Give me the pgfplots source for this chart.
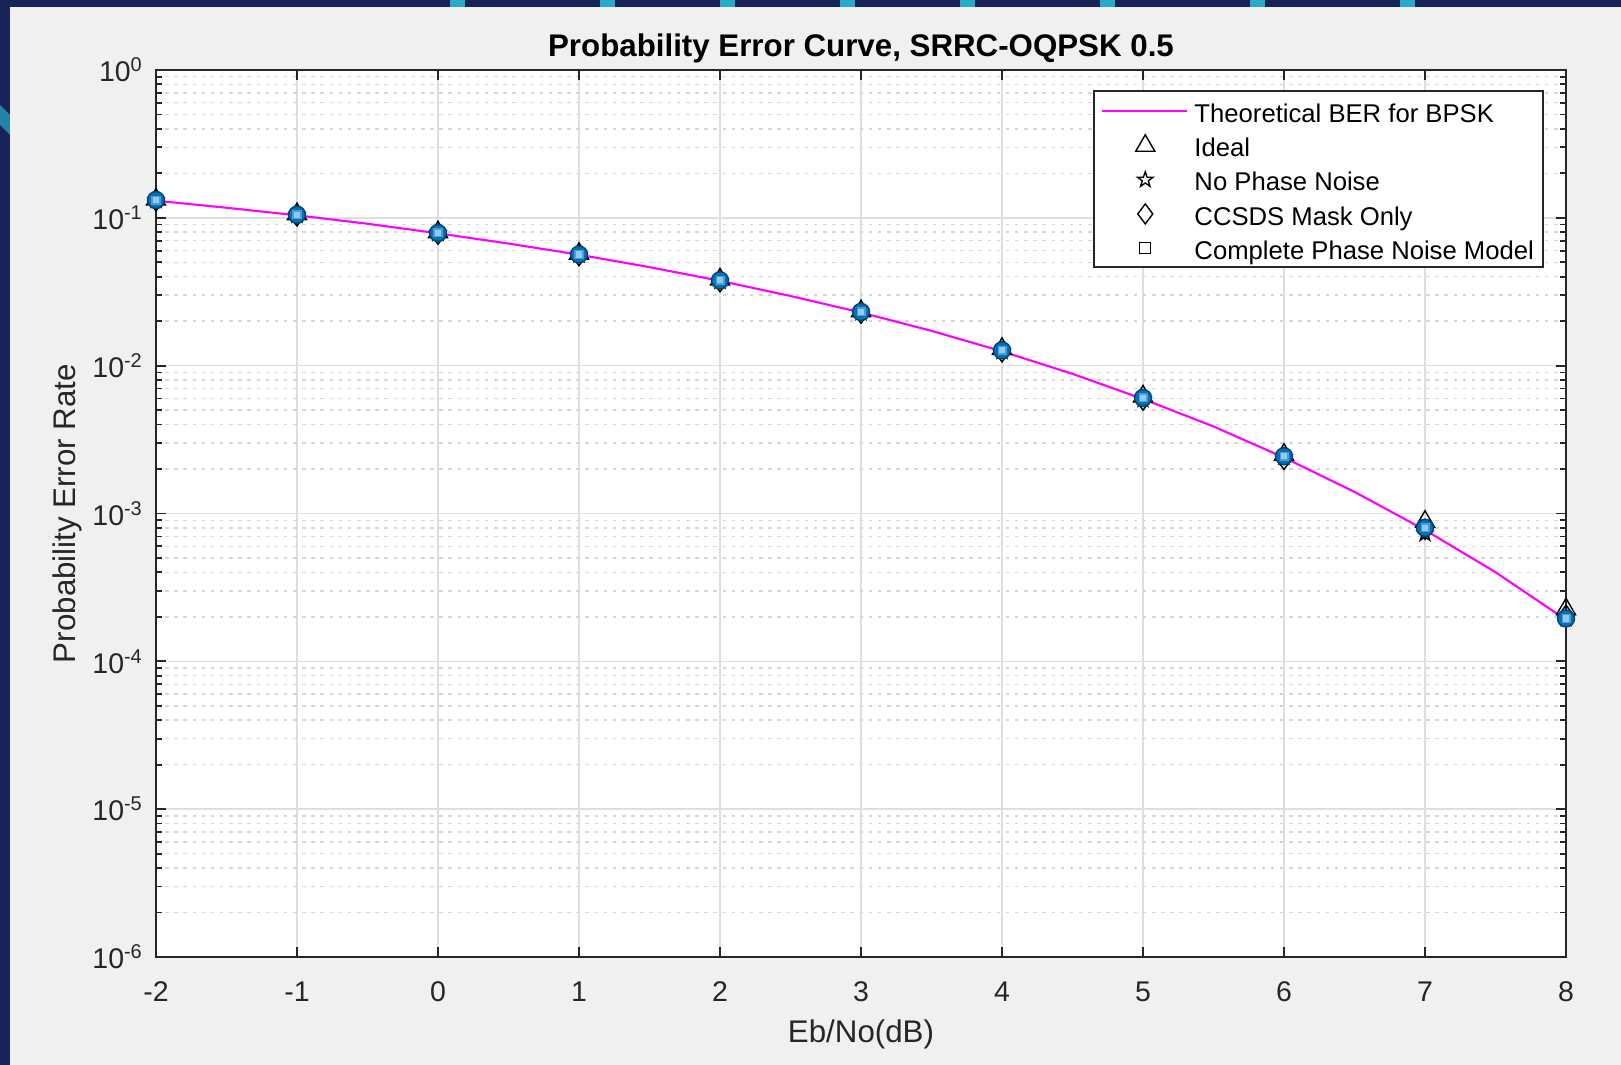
\documentclass[border=0pt]{standalone}
\usepackage{fontspec}
\setmainfont{Liberation Sans}
\usepackage{pgfplots}
\pgfplotsset{compat=1.18}
\definecolor{navy}{RGB}{22,36,88}
\definecolor{cyanish}{RGB}{40,170,200}
\definecolor{figgray}{RGB}{240,240,240}
\definecolor{txt}{RGB}{38,38,38}
\definecolor{mblue}{RGB}{0,114,189}
\definecolor{lblue}{RGB}{150,200,235}
\definecolor{mag}{RGB}{255,0,255}
% MATLAB-like pentagram outline
\pgfdeclareplotmark{pentagram}{%
  \pgfpathmoveto{\pgfpointpolar{90}{\pgfplotmarksize}}%
  \pgfpathlineto{\pgfpointpolar{126}{0.4\pgfplotmarksize}}%
  \pgfpathlineto{\pgfpointpolar{162}{\pgfplotmarksize}}%
  \pgfpathlineto{\pgfpointpolar{198}{0.4\pgfplotmarksize}}%
  \pgfpathlineto{\pgfpointpolar{234}{\pgfplotmarksize}}%
  \pgfpathlineto{\pgfpointpolar{270}{0.4\pgfplotmarksize}}%
  \pgfpathlineto{\pgfpointpolar{306}{\pgfplotmarksize}}%
  \pgfpathlineto{\pgfpointpolar{342}{0.4\pgfplotmarksize}}%
  \pgfpathlineto{\pgfpointpolar{18}{\pgfplotmarksize}}%
  \pgfpathlineto{\pgfpointpolar{54}{0.4\pgfplotmarksize}}%
  \pgfpathclose
  \pgfusepathqstroke}
\begin{document}
\begin{tikzpicture}
% window background
\fill[navy] (0,0) rectangle (162.1mm,106.5mm);
\foreach \x in {45,60,72,84,96,110,125,140}{
  \fill[cyanish] (\x mm,105.8mm) rectangle ++(1.5mm,0.7mm);}
\fill[cyanish!70!navy] (0,96mm) -- (1mm,95mm) -- (1mm,93mm) -- (0,94mm) -- cycle;
\fill[figgray] (1.0mm,0) rectangle (162.1mm,105.8mm);
\begin{axis}[
  at={(15.6mm,10.8mm)}, anchor=south west,
  scale only axis, width=141mm, height=88.7mm,
  ymode=log, xmin=-2, xmax=8, ymin=1e-6, ymax=1,
  axis background/.style={fill=white},
  xtick={-2,-1,0,1,2,3,4,5,6,7,8},
  xticklabels={-2,-1,0,1,2,3,4,5,6,7,8},
  ytick={1e-6,1e-5,1e-4,1e-3,1e-2,1e-1,1},
  yticklabels={10\textsuperscript{-6},10\textsuperscript{-5},10\textsuperscript{-4},10\textsuperscript{-3},10\textsuperscript{-2},10\textsuperscript{-1},10\textsuperscript{0}},
  grid=both,
  major grid style={black!13, line width=0.4pt},
  minor grid style={black!16, line width=0.4pt, dash pattern=on 1pt off 1.6pt},
  tick align=inside,
  major tick length=1.0mm, minor tick length=0.6mm,
  axis line style={txt, line width=0.5pt},
  every tick/.style={txt, line width=0.5pt},
  tick label style={font=\fontsize{8.1}{9.5}\selectfont, text=txt},
  xticklabel style={yshift=-1.2mm},
  title={\textbf{Probability Error Curve, SRRC-OQPSK 0.5}},
  title style={font=\fontsize{8.9}{10.5}\selectfont, yshift=-2.7mm},
  xlabel={Eb/No(dB)}, ylabel={Probability Error Rate},
  label style={font=\fontsize{8.9}{10.5}\selectfont, text=txt},
  xlabel style={yshift=0.6mm},
  ylabel style={yshift=-1.4mm},
  legend style={at={(1,1)}, anchor=north east, xshift=-2.2mm, yshift=-2.0mm,
    draw=txt, fill=white, line width=0.5pt,
    font=\fontsize{7.3}{8.8}\selectfont, row sep=0pt,
    nodes={inner ysep=0pt, inner xsep=1.2pt, text height=8.3pt, text depth=1.4pt},
    inner xsep=0.5mm, inner ysep=0.27mm},
  legend cell align=left,
]
% theoretical BPSK curve
\addplot[mag, line width=0.6pt, forget plot] coordinates {
  (-2,0.1306) (-1.5,0.1170) (-1,0.1040) (-0.5,0.0912) (0,0.0786) (0.5,0.0670)
  (1,0.0563) (1.5,0.0464) (2,0.0375) (2.5,0.0296) (3,0.0229) (3.5,0.0172)
  (4,0.0125) (4.5,0.00880) (5,0.00595) (5.5,0.00388) (6,0.00239) (6.5,0.00140)
  (7,0.000773) (7.5,0.000401) (8,0.000191)};
% Ideal
\addplot[only marks, mark=triangle, mark size=1.1mm, black, line width=0.4pt, forget plot] coordinates {
  (-2,0.133) (-1,0.106) (0,0.0800) (1,0.0572) (2,0.0383) (3,0.0234)
  (4,0.0130) (5,0.00620) (6,0.00250) (7,0.00088) (8,0.000225)};
% No phase noise
\addplot[only marks, mark=pentagram, mark size=0.8mm, black, line width=0.4pt, forget plot] coordinates {
  (-2,0.131) (-1,0.104) (0,0.0785) (1,0.0560) (2,0.0372) (3,0.0228)
  (4,0.0125) (5,0.00590) (6,0.00240) (7,0.00073) (8,0.000195)};
% CCSDS mask only
\addplot[only marks, mark=diamond, mark size=1.0mm, black, line width=0.4pt, forget plot] coordinates {
  (-2,0.130) (-1,0.103) (0,0.0775) (1,0.0555) (2,0.0370) (3,0.0226)
  (4,0.0124) (5,0.00585) (6,0.00232) (7,0.00078) (8,0.000205)};
% complete phase noise model
\addplot[only marks, mark=*, mark size=0.85mm, draw=mblue!60!black, fill=mblue, forget plot] coordinates {
  (-2,0.132) (-1,0.105) (0,0.0790) (1,0.0565) (2,0.0378) (3,0.0231)
  (4,0.0127) (5,0.00605) (6,0.00244) (7,0.00080) (8,0.000195)};
\addplot[only marks, mark=square*, mark size=0.38mm, draw=lblue!50!mblue, fill=lblue, forget plot] coordinates {
  (-2,0.132) (-1,0.105) (0,0.0790) (1,0.0565) (2,0.0378) (3,0.0231)
  (4,0.0127) (5,0.00605) (6,0.00244) (7,0.00080) (8,0.000195)};
% legend
\addlegendimage{legend image code/.code={\path[draw=none,fill=none] (-0.9mm,-1.1mm) rectangle (8.2mm,1.1mm);
  \draw[mag, line width=0.6pt] (-0.6mm,0mm) -- (7.9mm,0mm);}}
\addlegendentry{Theoretical BER for BPSK}
\addlegendimage{legend image code/.code={\path[draw=none,fill=none] (-0.9mm,-1.1mm) rectangle (8.2mm,1.1mm);
  \draw[black, line width=0.4pt] plot[mark=triangle, mark size=1.1mm] coordinates {(3.7mm,-0.1mm)};}}
\addlegendentry{Ideal}
\addlegendimage{legend image code/.code={\path[draw=none,fill=none] (-0.9mm,-1.1mm) rectangle (8.2mm,1.1mm);
  \draw[black, line width=0.4pt] plot[mark=pentagram, mark size=0.8mm] coordinates {(3.7mm,-0.1mm)};}}
\addlegendentry{No Phase Noise}
\addlegendimage{legend image code/.code={\path[draw=none,fill=none] (-0.9mm,-1.1mm) rectangle (8.2mm,1.1mm);
  \draw[black, line width=0.4pt] plot[mark=diamond, mark size=1.0mm] coordinates {(3.7mm,-0.1mm)};}}
\addlegendentry{CCSDS Mask Only}
\addlegendimage{legend image code/.code={\path[draw=none,fill=none] (-0.9mm,-1.1mm) rectangle (8.2mm,1.1mm);
  \draw[black, line width=0.4pt] plot[mark=square, mark size=0.55mm] coordinates {(3.7mm,-0.1mm)};}}
\addlegendentry{Complete Phase Noise Model}
\end{axis}
\end{tikzpicture}
\end{document}
